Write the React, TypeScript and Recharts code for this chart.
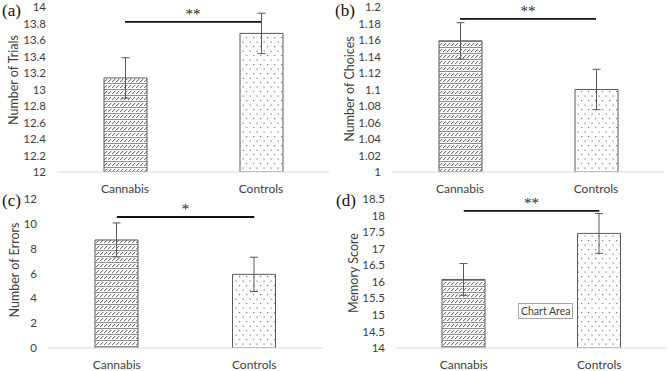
import React from 'react';
import { BarChart, Bar, Cell, XAxis, YAxis, ErrorBar, ReferenceLine } from 'recharts';

// groups shown on every panel
const groups = ['Cannabis', 'Controls'];

// (a) number of trials
const trials = [13.14, 13.68];
const trialsErr = [0.245, 0.245];
const trialsTicks = [12, 12.2, 12.4, 12.6, 12.8, 13, 13.2, 13.4, 13.6, 13.8, 14];

// (b) number of choices
const choices = [1.159, 1.1];
const choicesErr = [0.022, 0.0245];
const choicesTicks = [1, 1.02, 1.04, 1.06, 1.08, 1.1, 1.12, 1.14, 1.16, 1.18, 1.2];

// (c) number of errors
const errors = [8.7, 5.93];
const errorsErr = [1.37, 1.38];
const errorsTicks = [0, 2, 4, 6, 8, 10, 12];

// (d) memory score
const memory = [16.07, 17.46];
const memoryErr = [0.48, 0.6];
const memoryTicks = [14, 14.5, 15, 15.5, 16, 16.5, 17, 17.5, 18, 18.5];

// significance brackets
const sigLevels = [13.82, 1.1856, 10.55, 18.14];
const sigStars = ['**', '**', '*', '**'];

const panelLetters = ['(a)', '(b)', '(c)', '(d)'];
const titles = ['Number of Trials', 'Number of Choices', 'Number of Errors', 'Memory Score'];

const FONT = 'Lato, "Open Sans", sans-serif';
const SERIF = '"Liberation Serif", "DejaVu Serif", serif';
const TEXT = '#404040';

interface Box {
  left: number;
  top: number;
  w: number;
  h: number;
  mt: number;
  mr: number;
  yw: number;
}

interface PanelProps {
  id: string;
  values: number[];
  errs: number[];
  ticks: number[];
  sigY: number;
  stars: string;
  box: Box;
}

function Panel({ id, values, errs, ticks, sigY, stars, box }: PanelProps) {
  const data = groups.map((g, i) => ({ group: g, value: values[i], err: errs[i] }));
  return (
    <div style={{ position: 'absolute', left: box.left, top: box.top }}>
      <BarChart
        width={box.w}
        height={box.h}
        data={data}
        margin={{ top: box.mt, right: box.mr, bottom: 0, left: 0 }}
      >
        <defs>
          <pattern id={`hatch-${id}`} width={4} height={6} patternUnits="userSpaceOnUse">
            <rect width={4} height={6} fill="#fff" />
            <line x1={0} y1={5.5} x2={4} y2={5.5} stroke="#8c8c8c" strokeWidth={1} />
            <line x1={0} y1={4.2} x2={3.2} y2={1} stroke="#404040" strokeWidth={0.9} />
          </pattern>
          <pattern id={`dots-${id}`} width={7} height={9} patternUnits="userSpaceOnUse">
            <rect width={7} height={9} fill="#fff" />
            <rect x={1} y={1} width={1.2} height={1.2} fill="#7a7a7a" />
            <rect x={4.5} y={5.5} width={1.2} height={1.2} fill="#7a7a7a" />
          </pattern>
        </defs>
        <XAxis
          dataKey="group"
          interval={0}
          height={23}
          tickLine={false}
          tickSize={0}
          tickMargin={12}
          axisLine={{ stroke: '#d9d9d9' }}
          tick={{ fill: TEXT, fontSize: 12, fontFamily: FONT }}
        />
        <YAxis
          type="number"
          domain={[ticks[0], ticks[ticks.length - 1]]}
          ticks={ticks}
          interval={0}
          width={box.yw}
          axisLine={false}
          tickLine={false}
          tickSize={0}
          tickMargin={11}
          allowDataOverflow
          tick={{ fill: TEXT, fontSize: 11.5, fontFamily: FONT }}
          tickFormatter={(v: number) => String(+v.toFixed(2))}
        />
        <ReferenceLine
          segment={[
            { x: groups[0], y: sigY },
            { x: groups[1], y: sigY },
          ]}
          stroke="#111"
          strokeWidth={1.8}
          label={{ value: stars, position: 'top', offset: 3, fill: '#222', fontSize: 15, fontFamily: SERIF }}
        />
        <Bar dataKey="value" barSize={43} stroke="#595959" strokeWidth={1} isAnimationActive={false}>
          {data.map((d, i) => (
            <Cell key={d.group} fill={i === 0 ? `url(#hatch-${id})` : `url(#dots-${id})`} />
          ))}
          <ErrorBar dataKey="err" width={4} stroke="#595959" strokeWidth={1} />
        </Bar>
      </BarChart>
    </div>
  );
}

const boxes: Box[] = [
  { left: 0, top: 0, w: 335, h: 195, mt: 7, mr: 6, yw: 57 },
  { left: 335, top: 0, w: 334, h: 195, mt: 7, mr: 5, yw: 57 },
  { left: 0, top: 185, w: 335, h: 186, mt: 14, mr: 12, yw: 48 },
  { left: 335, top: 185, w: 334, h: 186, mt: 14, mr: 2, yw: 61 },
];

const letterPos = [
  { x: 2, y: 16 },
  { x: 335, y: 16 },
  { x: 2, y: 206 },
  { x: 336, y: 206 },
];

const titlePos = [
  { x: 13, y: 80 },
  { x: 349, y: 89 },
  { x: 14, y: 270 },
  { x: 353, y: 273 },
];

export default function App() {
  const series = [
    { values: trials, errs: trialsErr, ticks: trialsTicks },
    { values: choices, errs: choicesErr, ticks: choicesTicks },
    { values: errors, errs: errorsErr, ticks: errorsTicks },
    { values: memory, errs: memoryErr, ticks: memoryTicks },
  ];
  return (
    <div
      style={{
        position: 'fixed',
        left: 0,
        top: 0,
        width: 669,
        height: 371,
        background: '#fff',
        overflow: 'hidden',
      }}
    >
      {series.map((s, i) => (
        <Panel
          key={i}
          id={String(i)}
          values={s.values}
          errs={s.errs}
          ticks={s.ticks}
          sigY={sigLevels[i]}
          stars={sigStars[i]}
          box={boxes[i]}
        />
      ))}
      <svg width={669} height={371} style={{ position: 'absolute', left: 0, top: 0, pointerEvents: 'none' }}>
        {panelLetters.map((l, i) => (
          <text key={l} x={letterPos[i].x} y={letterPos[i].y} fontFamily={SERIF} fontSize={17} fill="#111">
            {l}
          </text>
        ))}
        {titles.map((t, i) => (
          <text
            key={t}
            x={titlePos[i].x}
            y={titlePos[i].y}
            transform={`rotate(-90 ${titlePos[i].x} ${titlePos[i].y})`}
            textAnchor="middle"
            dominantBaseline="central"
            fontFamily={FONT}
            fontSize={12.5}
            fill={TEXT}
          >
            {t}
          </text>
        ))}
      </svg>
      <div
        style={{
          position: 'absolute',
          left: 518,
          top: 303,
          padding: '0 2px',
          height: 14,
          lineHeight: '14px',
          border: '1px solid #a6a6a6',
          background: '#fff',
          fontFamily: FONT,
          fontSize: 10.5,
          color: '#404040',
          whiteSpace: 'nowrap',
        }}
      >
        Chart Area
      </div>
    </div>
  );
}
